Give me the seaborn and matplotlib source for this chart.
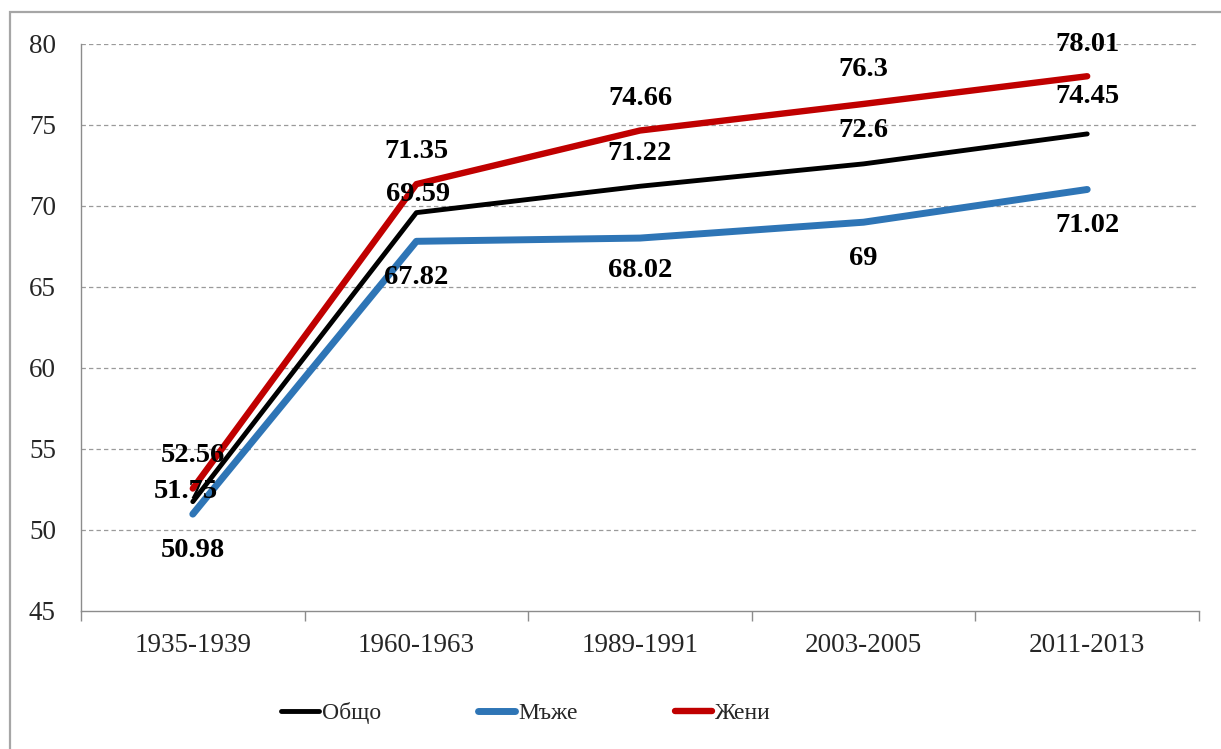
import matplotlib
matplotlib.use("Agg")
import matplotlib.pyplot as plt
import seaborn as sns
import pandas as pd
from matplotlib.lines import Line2D
from matplotlib.patches import Rectangle

periods = ["1935-1939", "1960-1963", "1989-1991", "2003-2005", "2011-2013"]
total = [51.75, 69.59, 71.22, 72.6, 74.45]
men = [50.98, 67.82, 68.02, 69, 71.02]
women = [52.56, 71.35, 74.66, 76.3, 78.01]
series_names = ["Общо", "Мъже", "Жени"]
label_texts = {
    "Общо": ["51.75", "69.59", "71.22", "72.6", "74.45"],
    "Мъже": ["50.98", "67.82", "68.02", "69", "71.02"],
    "Жени": ["52.56", "71.35", "74.66", "76.3", "78.01"],
}

sns.set_theme(style="white")
plt.rcParams["font.family"] = ["Liberation Serif", "DejaVu Serif"]

df = pd.DataFrame({
    "period": periods * 3,
    "value": total + men + women,
    "series": [series_names[0]] * 5 + [series_names[1]] * 5 + [series_names[2]] * 5,
})

colors = {"Общо": "#000000", "Мъже": "#2E75B6", "Жени": "#C00000"}
widths = {"Общо": 3.5, "Мъже": 5.0, "Жени": 4.6}
# label offsets in pixels (dx, dy) per series/point
offsets = {
    "Общо": [(-7, 10), (2, 18), (0, 33), (0, 33), (0, 37)],
    "Мъже": [(0, -36), (0, -36), (0, -32), (0, -36), (0, -36)],
    "Жени": [(0, 33), (0, 33), (0, 32), (0, 34), (0, 32)],
}

fig = plt.figure(figsize=(12.21, 7.49), dpi=100)
ax = fig.add_axes([81 / 1221, 1 - 611 / 749, (1199 - 81) / 1221, (611 - 44) / 749])

for name in series_names:
    sub = df[df["series"] == name]
    sns.lineplot(data=sub, x="period", y="value", ax=ax, color=colors[name],
                 linewidth=widths[name], sort=False, legend=False,
                 solid_capstyle="round", solid_joinstyle="round")

for name in series_names:
    sub = df[df["series"] == name].reset_index(drop=True)
    for i, row in sub.iterrows():
        dx, dy = offsets[name][i]
        ax.annotate(label_texts[name][i], (i, row["value"]), xytext=(dx, dy),
                    textcoords="offset pixels", ha="center", va="center",
                    fontsize=20.5, fontweight="bold", color="black",
                    family=["Liberation Serif"], zorder=5)

ax.set_xlim(-0.5, 4.5)
ax.set_ylim(45, 80)
ax.set_yticks(range(45, 81, 5))
ax.set_xticks([i + 0.5 for i in range(-1, 5)])
ax.set_xticklabels([])
ax.set_xticks(range(5), minor=True)
ax.set_xticklabels(periods, minor=True)
ax.tick_params(axis="x", which="major", length=7, width=1, color="#8C8C8C", direction="out", bottom=True)
ax.tick_params(axis="x", which="minor", length=0, pad=16, labelsize=19.5)
ax.tick_params(axis="y", length=0, pad=18, labelsize=19.5)
ax.set_xlabel("")
ax.set_ylabel("")
ax.grid(False)
for y in range(50, 81, 5):
    ax.axhline(y, color="#9A9A9A", linestyle=(0, (3.5, 2.5)), linewidth=0.9, zorder=0)

for side in ["top", "right"]:
    ax.spines[side].set_visible(False)
for side in ["left", "bottom"]:
    ax.spines[side].set_color("#8C8C8C")
    ax.spines[side].set_linewidth(1.0)

handles = [Line2D([0], [0], color=colors[n], linewidth=widths[n], solid_capstyle="round") for n in series_names]
fig.legend(handles, series_names, loc="center", bbox_to_anchor=(526 / 1221, 1 - 713 / 749),
           ncol=3, frameon=False, fontsize=17, handlelength=1.6, handletextpad=0.12,
           columnspacing=4.1)

fig.patches.append(Rectangle((10 / 1221, -0.05), 1.2, 1 - 12 / 749 + 0.05,
                             transform=fig.transFigure, fill=False,
                             edgecolor="#A6A6A6", linewidth=1.6))

fig.savefig("out.png", dpi=100)
